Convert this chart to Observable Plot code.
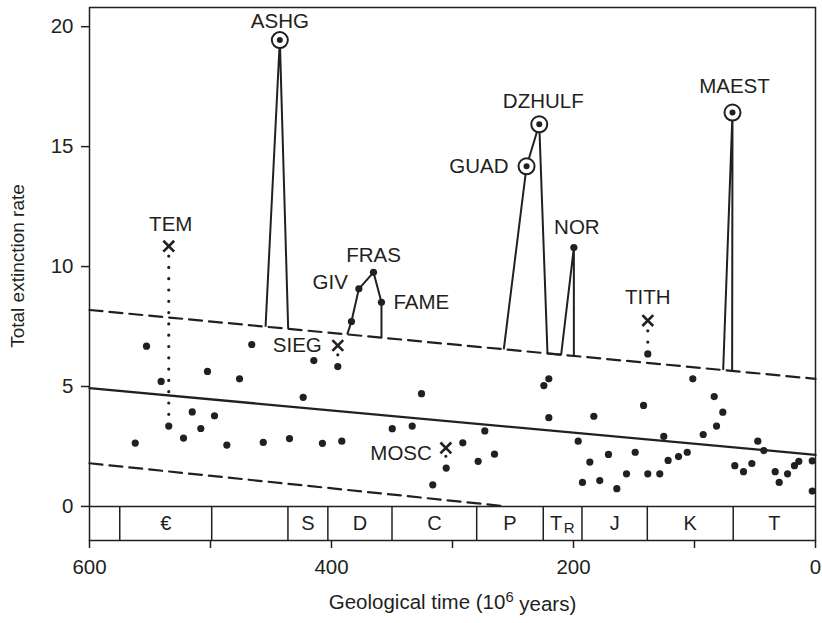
<!DOCTYPE html>
<html><head><meta charset="utf-8">
<script src="https://cdn.jsdelivr.net/npm/d3@7"></script>
<script src="https://cdn.jsdelivr.net/npm/@observablehq/plot@0.6"></script>
<style>body{margin:0;background:#fff}</style>
</head><body><div id="chart"></div>
<script>
// ---------- data ----------
const xTicks = [600, 500, 400, 300, 200, 100, 0];
const yTicks = [0, 5, 10, 15, 20];
const periodNames = ["", "€", "", "S", "D", "C", "P", "T|R", "J", "K", "T"];
const periodStart = [600, 575, 499, 436, 403, 350, 280, 225, 193, 139, 68];
const periodEnd   = [575, 499, 436, 403, 350, 280, 225, 193, 139, 68, 0];

// background extinction points (time Myr, rate)
const dotT = [562.2, 552.9, 540.8, 534.5, 522.3, 515.1, 508.0, 502.5, 496.7, 486.5, 476.0, 465.9, 456.4, 434.7, 423.4, 414.6, 407.5, 394.8, 391.5, 349.8, 333.3, 325.6, 316.3, 305.2, 291.5, 278.8, 273.3, 265.3, 224.5, 220.4, 220.4, 196.1, 192.6, 186.5, 183.2, 178.3, 171.1, 164.2, 156.2, 149.0, 142.1, 138.6, 138.6, 128.7, 125.4, 121.8, 113.2, 106.0, 101.4, 92.8, 83.7, 81.8, 76.6, 66.7, 59.5, 52.6, 47.7, 42.7, 33.3, 30.0, 23.1, 17.4, 13.8, 2.7, 2.7];
const dotV = [2.64, 6.68, 5.21, 3.35, 2.85, 3.94, 3.25, 5.63, 3.78, 2.56, 5.32, 6.75, 2.67, 2.83, 4.55, 6.08, 2.63, 5.83, 2.72, 3.24, 3.35, 4.70, 0.90, 1.60, 2.65, 1.88, 3.15, 2.18, 5.04, 5.32, 3.70, 2.72, 1.00, 1.85, 3.76, 1.08, 2.17, 0.74, 1.36, 2.26, 4.21, 6.36, 1.36, 1.36, 2.92, 1.92, 2.08, 2.26, 5.32, 3.00, 4.58, 3.35, 3.93, 1.70, 1.45, 1.79, 2.72, 2.33, 1.45, 1.00, 1.36, 1.70, 1.88, 1.90, 0.64];

// regression line and envelopes
const trendT = [600, 0];
const trendV = [4.93, 2.15];
const upperV = [8.19, 5.32];
const lowerT = [600, 255];
const lowerV = [1.80, 0];

// mass-extinction spikes (null = on the upper envelope)
const ashgT = [454.5, 442.7, 435.8];
const ashgV = [null, 19.44, null];
const devT = [387.0, 383.5, 377.4, 365.3, 358.7, 358.7];
const devV = [null, 7.71, 9.07, 9.76, 8.51, null];
const ptrT = [257.6, 238.8, 228.3, 221.5, 210.2, 199.7, 199.7];
const ptrV = [null, 14.18, 15.93, null, null, 10.79, null];
const maestT = [76.3, 68.6, 68.9];
const maestV = [null, 16.42, null];

// ringed peaks
const peakT = [442.7, 238.8, 228.3, 68.6];
const peakV = [19.44, 14.18, 15.93, 16.42];

// filled peak points
const markT = [383.5, 377.4, 365.3, 358.7, 199.7];
const markV = [7.71, 9.07, 9.76, 8.51, 10.79];

// crosses joined by dotted lines
const crossT = [534.5, 394.8, 305.5, 138.6];
const crossTop = [10.85, 6.71, 2.44, 7.75];
const crossBase = [3.35, 5.83, 1.60, 6.36];

// stage labels
const labelNames = ["ASHG", "TEM", "SIEG", "GIV", "FRAS", "FAME", "MOSC", "GUAD", "DZHULF", "NOR", "TITH", "MAEST"];
const labelT = [442.7, 534.5, 394.8, 377.4, 365.3, 358.7, 305.5, 238.8, 228.3, 199.7, 138.6, 68.6];
const labelV = [19.44, 10.85, 6.71, 9.07, 9.76, 8.51, 2.44, 14.18, 15.93, 10.79, 7.75, 16.42];

const yLabel = "Total extinction rate";
const xLabel = "Geological time (10⁶ years)";

// ---------- styling ----------
const ink = "#231f20";
const font = "'Liberation Sans', Arial, Helvetica, sans-serif";
const yMin = -1.42, yMax = 20.8;
const labelPlace = {
  ASHG: ["middle", 0, -19], TEM: ["middle", 2, -22], SIEG: ["end", -16, 0],
  GIV: ["end", -11, -6], FRAS: ["middle", 0, -17], FAME: ["start", 12, 0],
  MOSC: ["end", -14, 6], GUAD: ["end", -18, 0], DZHULF: ["middle", 4, -23],
  NOR: ["middle", 3, -20], TITH: ["middle", 0, -23], MAEST: ["middle", 2, -26]
};

const upper = d3.scaleLinear().domain(trendT).range(upperV);
const spike = (T, V) => T.map((t, i) => ({t, v: V[i] == null ? upper(t) : V[i]}));
const idx = a => a.map((_, i) => i);

const periods = periodNames.map((name, i) => ({name, a: periodStart[i], b: periodEnd[i]}));
const boundaries = periodStart.slice(1);

const marks = [
  // geological band
  Plot.ruleX(boundaries, {x: d => d, y1: yMin, y2: 0, stroke: ink, strokeWidth: 1.5}),
  Plot.text(periods.filter(p => p.name && p.name !== "T|R"), {x: p => (p.a + p.b) / 2, y: yMin / 2, text: "name", fontSize: 20, fill: ink}),
  Plot.text(periods.filter(p => p.name === "T|R"), {x: p => (p.a + p.b) / 2, y: yMin / 2, text: () => "T", dx: -6.5, fontSize: 20, fill: ink}),
  Plot.text(periods.filter(p => p.name === "T|R"), {x: p => (p.a + p.b) / 2, y: yMin / 2, text: () => "R", dx: 6.5, dy: 5, fontSize: 15, fill: ink}),
  Plot.ruleY([0], {stroke: ink, strokeWidth: 1.5}),
  // trend and envelopes
  Plot.line(idx(trendT), {x: i => trendT[i], y: i => trendV[i], stroke: ink, strokeWidth: 2.3}),
  Plot.line(idx(trendT), {x: i => trendT[i], y: i => upperV[i], stroke: ink, strokeWidth: 2.2, strokeDasharray: "13 7"}),
  Plot.line(idx(lowerT), {x: i => lowerT[i], y: i => lowerV[i], stroke: ink, strokeWidth: 2.2, strokeDasharray: "13 7"}),
  // spikes
  ...[[ashgT, ashgV], [devT, devV], [ptrT, ptrV], [maestT, maestV]].map(([T, V]) =>
    Plot.line(spike(T, V), {x: "t", y: "v", stroke: ink, strokeWidth: 2, strokeLinejoin: "miter", strokeLinecap: "butt"})),
  // dotted links
  Plot.ruleX(idx(crossT), {x: i => crossT[i], y1: i => crossBase[i], y2: i => crossTop[i], stroke: ink, strokeWidth: 3.2, strokeDasharray: "0 11.3", strokeLinecap: "round"}),
  // points
  Plot.dot(idx(dotT), {x: i => dotT[i], y: i => dotV[i], r: 3.6, fill: ink}),
  Plot.dot(idx(markT), {x: i => markT[i], y: i => markV[i], r: 3.6, fill: ink}),
  Plot.dot(idx(crossT), {x: i => crossT[i], y: i => crossTop[i], symbol: "times", r: 5, stroke: ink, strokeWidth: 2.6}),
  Plot.dot(idx(peakT), {x: i => peakT[i], y: i => peakV[i], r: 8, fill: "white", stroke: ink, strokeWidth: 2}),
  Plot.dot(idx(peakT), {x: i => peakT[i], y: i => peakV[i], r: 3, fill: ink}),
  // labels
  ...labelNames.map((name, i) => {
    const [anchor, dx, dy] = labelPlace[name];
    return Plot.text([i], {x: j => labelT[j], y: j => labelV[j], text: j => labelNames[j], textAnchor: anchor, dx, dy, fontSize: 20.5, fill: ink});
  }),
  // axes
  Plot.axisY({ticks: yTicks, tickSize: 8, tickPadding: 8, label: null, fontSize: 20.5, stroke: ink, strokeWidth: 1.5, fill: ink}),
  Plot.axisX({ticks: xTicks, tickSize: 8, tickPadding: 11, label: null, tickFormat: d => (d % 200 === 0 ? String(d) : ""), fontSize: 20.5, stroke: ink, strokeWidth: 1.5, fill: ink}),
  Plot.text([yLabel], {frameAnchor: "left", textAnchor: "middle", text: d => d, rotate: -90, dx: -72, dy: -8, fontSize: 19, fill: ink}),
  Plot.text([xLabel], {frameAnchor: "bottom", textAnchor: "middle", text: d => d, dy: 68, fontSize: 20.5, fill: ink}),
  Plot.frame({stroke: ink, strokeWidth: 1.5})
];

const chart = Plot.plot({
  width: 822, height: 623,
  marginLeft: 89, marginRight: 7, marginTop: 7, marginBottom: 83,
  x: {domain: [600, 0]},
  y: {domain: [yMin, yMax]},
  style: {fontFamily: font, background: "white", color: ink, overflow: "visible"},
  marks
});

// proper superscript for the x-axis title
d3.select(chart).selectAll("text").filter(function () { return this.textContent === xLabel; }).each(function () {
  const t = d3.select(this);
  t.text(null);
  t.append("tspan").text("Geological time (10");
  t.append("tspan").attr("dy", "-0.45em").attr("font-size", "0.72em").text("6");
  t.append("tspan").attr("dy", "0.45em").text(" years)");
});
document.getElementById("chart").append(chart);
</script></body></html>
